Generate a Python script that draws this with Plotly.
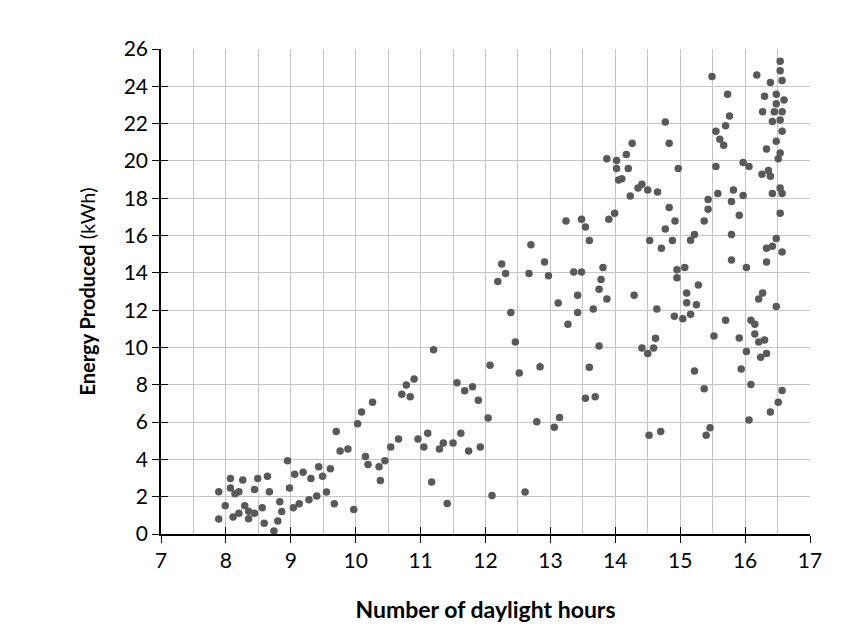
import plotly.graph_objects as go

hours = [
    7.89, 7.99, 7.89, 8.07, 8.07, 8.14, 8.20, 8.26, 8.11, 8.20, 8.29, 8.35, 8.35, 8.44, 8.44, 8.49,
    8.56, 8.59, 8.64, 8.67, 8.74, 8.80, 8.83, 8.86, 8.95, 8.98, 9.04, 9.06, 9.13, 9.19, 9.28, 9.31,
    9.40, 9.43, 9.49, 9.55, 9.61, 9.67, 9.70, 9.76, 9.88, 9.97, 10.03, 10.09, 10.15, 10.19,
    10.26, 10.36, 10.38, 10.45, 10.54, 10.66, 10.71, 10.78, 10.84, 10.90, 10.96, 11.05, 11.11, 11.17,
    11.20, 11.29, 11.35, 11.41, 11.50, 11.56, 11.62, 11.68, 11.74, 11.80, 11.89, 11.92, 12.04, 12.07,
    12.10, 12.46, 12.52, 12.61, 12.79, 12.84, 13.06, 13.14,
    12.19, 12.25, 12.31, 12.39, 12.67, 12.70, 12.91, 12.97, 13.12, 13.24, 13.36, 13.42, 13.42, 13.48,
    13.48, 13.54, 13.60, 13.66, 13.75, 13.78, 13.81, 13.87, 13.87, 13.90, 13.99, 14.02, 14.02, 14.05,
    14.10, 14.17, 14.20, 14.23, 14.26, 14.29, 14.35,
    14.77, 14.83, 14.41, 14.50, 14.65, 14.97, 14.83, 14.92, 14.77, 14.53, 14.71, 14.88, 14.95, 14.95,
    16.54, 16.54, 16.57, 16.18, 16.39, 15.49, 15.73, 16.30, 16.48, 16.48, 16.60, 16.27, 16.45, 16.57,
    16.54, 16.42, 15.76, 15.70, 16.57, 15.55, 15.61, 15.67, 16.48, 16.33, 16.54, 16.51, 15.55, 15.97,
    16.06, 16.36, 16.26, 16.39, 16.54, 16.57, 16.42, 16.54, 15.58, 15.82, 15.97, 15.79, 15.91, 15.43,
    15.43, 15.37, 15.16, 15.22, 15.79, 16.48, 16.33, 16.42, 16.57, 15.79, 16.33, 16.02, 15.07, 15.28,
    14.64, 14.91, 13.27, 13.75, 14.41, 14.59, 14.50, 14.62, 13.60, 13.54, 13.69, 14.52, 14.70,
    15.10, 15.10, 15.25, 15.04, 15.16, 15.70, 15.52, 15.91, 16.09, 16.15, 16.15, 16.21, 16.30, 16.02,
    16.24, 16.33, 16.21, 16.27, 16.48, 15.94, 15.22, 15.37, 16.09, 16.57, 16.51, 16.39, 16.06, 15.46,
    15.40,
]

energy = [
    2.27, 1.52, 0.80, 2.98, 2.47, 2.16, 2.27, 2.90, 0.91, 1.11, 1.52, 1.22, 0.82, 1.11, 2.38, 2.98,
    1.41, 0.57, 3.09, 2.27, 0.16, 0.70, 1.73, 1.20, 3.93, 2.47, 1.41, 3.20, 1.62, 3.31, 1.84, 2.98,
    2.04, 3.61, 3.09, 2.25, 3.50, 1.62, 5.49, 4.45, 4.56, 1.32, 5.91, 6.54, 4.15, 3.72,
    7.06, 3.61, 2.87, 3.93, 4.66, 5.09, 7.49, 7.99, 7.36, 8.31, 5.09, 4.66, 5.40, 2.79,
    9.88, 4.56, 4.88, 1.64, 4.88, 8.11, 5.40, 7.68, 4.45, 7.90, 7.17, 4.66, 6.22, 9.04,
    2.06, 10.29, 8.63, 2.25, 6.02, 8.97, 5.72, 6.24,
    13.53, 14.48, 13.96, 11.87, 13.96, 15.51, 14.58, 13.85, 12.39, 16.78, 14.05, 12.80, 11.87, 16.87,
    14.05, 16.46, 15.73, 12.06, 13.12, 13.64, 14.28, 12.60, 20.12, 16.87, 17.19, 20.02, 19.59, 18.98,
    19.05, 20.34, 19.59, 18.12, 20.95, 12.80, 18.55,
    22.09, 20.95, 18.75, 18.44, 18.34, 19.59, 17.50, 16.78, 16.35, 15.73, 15.32, 15.73, 14.17, 13.74,
    25.34, 24.83, 24.31, 24.61, 24.20, 24.52, 23.58, 23.47, 23.58, 23.06, 23.27, 22.63, 22.63, 22.63,
    22.20, 22.11, 22.41, 21.89, 21.59, 21.59, 21.16, 20.84, 21.06, 20.64, 20.43, 20.12, 19.70, 19.91,
    19.70, 19.48, 19.29, 19.18, 18.55, 18.25, 18.25, 17.20, 18.25, 18.44, 18.14, 17.82, 17.09, 17.93,
    17.41, 16.78, 15.75, 16.05, 16.05, 15.84, 15.32, 15.43, 15.12, 14.69, 14.58, 14.28, 14.28, 13.35,
    12.06, 11.67, 11.24, 10.08, 9.97, 9.97, 9.67, 10.49, 8.94, 7.28, 7.36, 5.29, 5.49,
    12.92, 12.40, 12.29, 11.54, 11.78, 11.46, 10.62, 10.51, 11.46, 11.24, 10.72, 10.29, 10.40, 9.78,
    9.47, 9.67, 12.60, 12.92, 12.19, 8.85, 8.74, 7.79, 8.01, 7.69, 7.06, 6.54, 6.11, 5.70,
    5.29,
]

x_ticks = list(range(7, 18))
y_ticks = list(range(0, 27, 2))

x_title = "<b>Number of daylight hours</b>"
y_title = "<b>Energy Produced</b> (kWh)"

font_family = "Lato, 'Open Sans', sans-serif"

fig = go.Figure()
fig.add_trace(
    go.Scatter(
        x=hours,
        y=energy,
        mode="markers",
        marker=dict(color="#595959", size=7.5, line=dict(width=0)),
        hoverinfo="x+y",
    )
)
# empty trace on overlay axes (used only to draw the inner half of the crossing tick marks)
fig.add_trace(go.Scatter(x=[], y=[], xaxis="x2", yaxis="y2", showlegend=False, hoverinfo="skip"))

fig.update_layout(
    width=844,
    height=631,
    margin=dict(l=161, r=34, t=49, b=97),
    paper_bgcolor="white",
    plot_bgcolor="white",
    showlegend=False,
    font=dict(family=font_family, color="black", size=18),
)

fig.update_layout(
    xaxis=dict(
        range=[7, 17],
        tickvals=x_ticks,
        ticktext=[str(v) for v in x_ticks],
        showgrid=True,
        gridcolor="#c6c6c6",
        gridwidth=1,
        minor=dict(dtick=0.5, tick0=7, showgrid=True, gridcolor="#c6c6c6", gridwidth=1, ticks=""),
        showline=True,
        linecolor="black",
        linewidth=1.5,
        ticks="outside",
        ticklen=7,
        tickwidth=1.3,
        tickcolor="black",
        zeroline=False,
        tickfont=dict(size=21, family=font_family),
        title=dict(text=x_title, font=dict(size=23, family=font_family), standoff=31),
    ),
    yaxis=dict(
        range=[0, 26],
        tickvals=y_ticks,
        ticktext=[str(v) for v in y_ticks],
        showgrid=True,
        gridcolor="#c6c6c6",
        gridwidth=1,
        showline=True,
        linecolor="black",
        linewidth=1.5,
        ticks="outside",
        ticklen=7,
        tickwidth=1.3,
        tickcolor="black",
        zeroline=False,
        tickfont=dict(size=21, family=font_family),
        title=dict(text=y_title, font=dict(size=20, family=font_family), standoff=23),
    ),
    xaxis2=dict(
        overlaying="x",
        matches="x",
        anchor="y",
        side="bottom",
        tickvals=x_ticks,
        showticklabels=False,
        showgrid=False,
        zeroline=False,
        showline=False,
        ticks="inside",
        ticklen=7,
        tickwidth=1.3,
        tickcolor="black",
    ),
    yaxis2=dict(
        overlaying="y",
        matches="y",
        anchor="x",
        side="left",
        tickvals=y_ticks,
        showticklabels=False,
        showgrid=False,
        zeroline=False,
        showline=False,
        ticks="inside",
        ticklen=7,
        tickwidth=1.3,
        tickcolor="black",
    ),
)

fig.write_html("out.html")
